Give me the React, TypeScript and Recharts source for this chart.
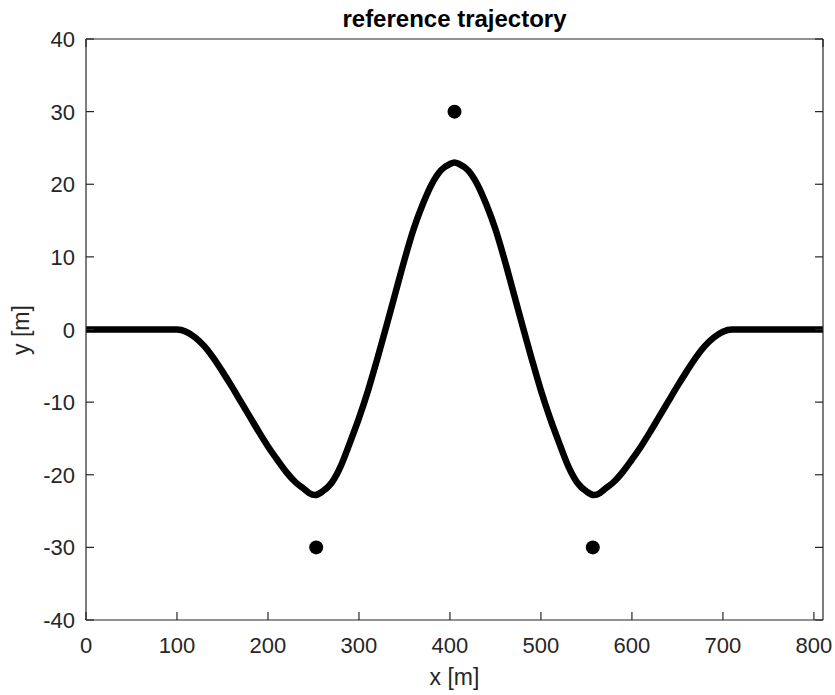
import React from 'react';
import { ComposedChart, Line, Scatter, XAxis, YAxis, Label } from 'recharts';

// reference path (x in m, y in m)
const pathX = [
  0, 100, 110, 120, 130, 140, 150, 160, 170, 180, 190, 200, 210, 220, 230, 240, 245, 252, 260, 270,
  280, 290, 300, 310, 320, 330, 340, 350, 360, 370, 380, 390, 400, 405, 410, 420, 430, 440, 450, 460,
  470, 480, 490, 500, 510, 520, 530, 540, 550, 558, 565, 570, 580, 590, 600, 610, 620, 630, 640,
  650, 660, 670, 680, 690, 700, 710, 810,
];
const pathY = [
  0, 0, -0.3, -1.1, -2.3, -3.9, -5.8, -7.8, -9.9, -12.0, -14.1, -16.1, -17.9, -19.6, -21.0, -22.0, -22.5, -22.8, -22.3, -21.1,
  -18.8, -15.6, -12.2, -8.4, -4.1, 0.4, 5.0, 9.6, 13.8, 17.2, 20.0, 21.9, 22.8, 23.0, 22.8, 21.9, 20.0, 17.2, 13.8, 9.6,
  5.0, 0.4, -4.1, -8.4, -12.2, -15.6, -18.8, -21.1, -22.3, -22.8, -22.5, -22.0, -21.0, -19.6, -17.9, -16.1, -14.1, -12.0, -9.9,
  -7.8, -5.8, -3.9, -2.3, -1.1, -0.3, 0, 0,
];

// waypoints (black dots)
const waypointX = [253, 405, 557];
const waypointY = [-30, 30, -30];

const xTicks = [0, 100, 200, 300, 400, 500, 600, 700, 800];
const yTicks = [-40, -30, -20, -10, 0, 10, 20, 30, 40];

const pathData = pathX.map((x, i) => ({ x, y: pathY[i] }));
const waypointData = waypointX.map((x, i) => ({ x, y: waypointY[i] }));

const AX = '#262626';
const FONT = '"Liberation Sans", Arial, Helvetica, sans-serif';
const TICK_LEN = 8;

const BottomTick = (props: any) => {
  const { x, y, payload } = props;
  return (
    <g>
      <line x1={x} y1={y} x2={x} y2={y - TICK_LEN} stroke={AX} strokeWidth={1.2} />
      <text x={x} y={y + 33} textAnchor="middle" fill={AX} fontSize={22} fontFamily={FONT}>
        {payload.value}
      </text>
    </g>
  );
};

const TopTick = (props: any) => {
  const { x, y } = props;
  return <line x1={x} y1={y} x2={x} y2={y + TICK_LEN} stroke={AX} strokeWidth={1.2} />;
};

const LeftTick = (props: any) => {
  const { x, y, payload } = props;
  return (
    <g>
      <line x1={x} y1={y} x2={x + TICK_LEN} y2={y} stroke={AX} strokeWidth={1.2} />
      <text x={x - 11} y={y + 8} textAnchor="end" fill={AX} fontSize={22} fontFamily={FONT}>
        {payload.value}
      </text>
    </g>
  );
};

const RightTick = (props: any) => {
  const { x, y } = props;
  return <line x1={x} y1={y} x2={x - TICK_LEN} y2={y} stroke={AX} strokeWidth={1.2} />;
};

const Waypoint = (props: any) => <circle cx={props.cx} cy={props.cy} r={7} fill="#000" />;

const YLabel = (props: any) => {
  const { viewBox } = props;
  const cx = viewBox.x + viewBox.width - 57;
  const cy = 330;
  return (
    <text x={cx} y={cy} transform={`rotate(-90, ${cx}, ${cy})`} textAnchor="middle" fill={AX} fontSize={23} fontFamily={FONT}>
      y [m]
    </text>
  );
};

const App = () => {
  return (
    <div style={{ position: 'absolute', left: 0, top: 0, background: '#fff' }}>
      <ComposedChart width={835} height={695} data={pathData} margin={{ top: 38, right: 11, bottom: 74, left: 85 }}>
        <XAxis
          dataKey="x"
          type="number"
          domain={[0, 810]}
          ticks={xTicks}
          height={1}
          tickSize={0}
          tickMargin={0}
          tick={<BottomTick />}
          axisLine={{ stroke: AX, strokeWidth: 1.2 }}
          allowDataOverflow
        >
          <Label value="x [m]" position="bottom" offset={48} fill={AX} fontSize={23} fontFamily={FONT} />
        </XAxis>
        <XAxis
          xAxisId="top"
          orientation="top"
          type="number"
          domain={[0, 810]}
          ticks={xTicks}
          height={1}
          tickSize={0}
          tickMargin={0}
          tick={<TopTick />}
          axisLine={{ stroke: AX, strokeWidth: 1.2 }}
          allowDataOverflow
        >
          <Label value="reference trajectory" position="top" offset={11} fill="#000" fontSize={24} fontWeight="bold" fontFamily={FONT} />
        </XAxis>
        <YAxis
          type="number"
          domain={[-40, 40]}
          ticks={yTicks}
          width={1}
          tickSize={0}
          tickMargin={0}
          tick={<LeftTick />}
          axisLine={{ stroke: AX, strokeWidth: 1.2 }}
          allowDataOverflow
        >
          <Label content={<YLabel />} />
        </YAxis>
        <YAxis
          yAxisId="right"
          orientation="right"
          type="number"
          domain={[-40, 40]}
          ticks={yTicks}
          width={1}
          tickSize={0}
          tickMargin={0}
          tick={<RightTick />}
          axisLine={{ stroke: AX, strokeWidth: 1.2 }}
          allowDataOverflow
        />
        <Line
          type="monotone"
          dataKey="y"
          stroke="#000"
          strokeWidth={6.5}
          dot={false}
          activeDot={false}
          isAnimationActive={false}
        />
        <Scatter data={waypointData} dataKey="y" shape={<Waypoint />} isAnimationActive={false} />
      </ComposedChart>
    </div>
  );
};

export default App;
